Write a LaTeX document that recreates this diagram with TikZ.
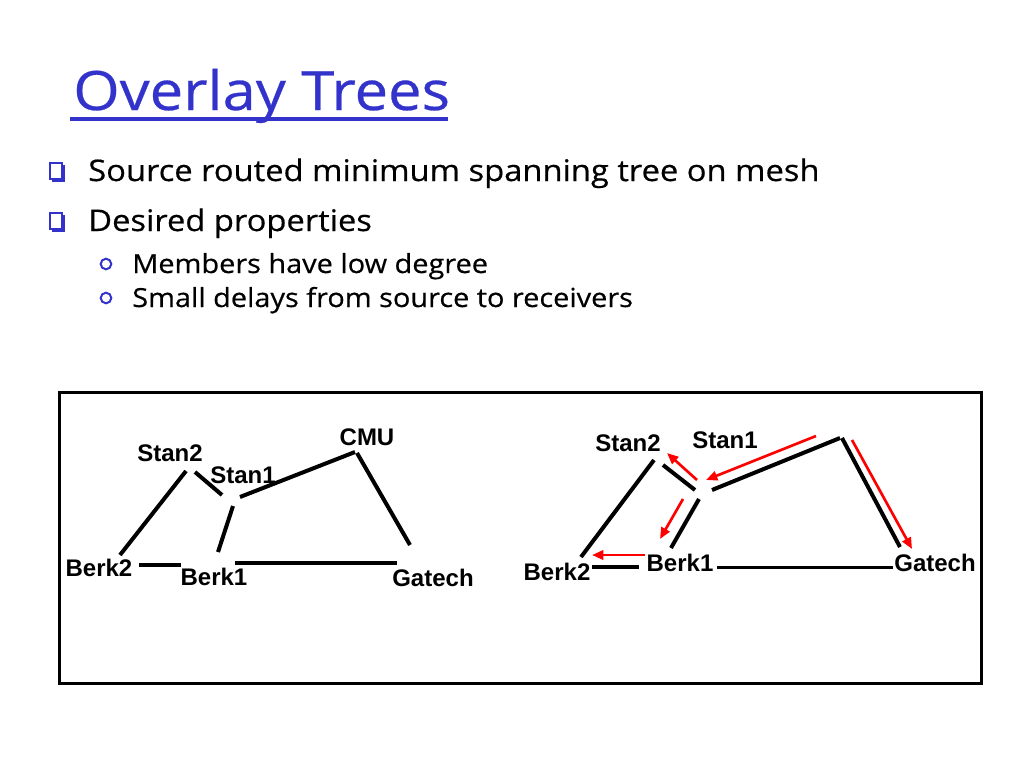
\documentclass[tikz,border=0pt]{standalone}
\usepackage{fontspec}
\setmainfont[FakeStretch=1.1,FakeBold=0.5]{Open Sans}
\newfontfamily\hostfont{Liberation Sans}
\usetikzlibrary{
	arrows.meta,
	positioning,
}
\definecolor{slideblue}{RGB}{51,51,204}
\tikzset{
	host/.style={
		font=\hostfont\bfseries\fontsize{18}{18}\selectfont,
		inner sep=0pt,
	},
	link/.style={line width=3pt},
	route/.style={
		red,
		line width=2pt,
		-{Triangle[length=8.5pt,width=7pt]},
	},
	item/.style={anchor=base west, inner sep=0pt, font=\fontsize{22.3}{26}\selectfont},
	subitem/.style={anchor=base west, inner sep=0pt, font=\fontsize{19.7}{24}\selectfont},
}

\begin{document}
\begin{tikzpicture}[x=0.75pt,y=-0.75pt]
\useasboundingbox (0,0) rectangle (1024,768);

% title and bullets
\node[anchor=base west, inner sep=0pt, text=slideblue,
	font=\fontsize{40.7}{44}\selectfont] (title) at (73,110) {Overlay Trees};
\draw[slideblue, line width=3pt] (70,119) -- (448,119);

\node[item] (b1) at (88,181) {Source routed minimum spanning tree on mesh};
\node[item] (b2) at (88,231) {Desired properties};
\node[subitem] (s1) at (132,273) {Members have low degree};
\node[subitem] (s2) at (132,307) {Small delays from source to receivers};

\foreach \y in {163,213}{
	\draw[slideblue, line width=1.2pt] (50,\y) rectangle (62,\y+16);
	\draw[slideblue, line width=1.6pt] (64,\y+2) -- (64,\y+18) -- (52,\y+18);
}
\foreach \y in {264,298}{
	\draw[slideblue, line width=1.5pt] (106,\y) circle (5.3);
}

\draw[line width=2.25pt] (59.5,392.5) rectangle (981,683);

% left: mesh
\node[host] (lStan2) at (170,453) {Stan2};
\node[host] (lStan1) at (243,475) {Stan1};
\node[host] (lCMU) at (367,437) {CMU};
\node[host] (lBerk2) at (99,568) {Berk2};
\node[host] (lBerk1) at (214,577) {Berk1};
\node[host] (lGatech) at (433,578) {Gatech};

\foreach \n/\x/\y in {
	l1/186/471, l2/120/555, l3/195/472, l4/222/495,
	l5/240/497, l6/355/452, l7/233/506, l8/218/552,
	l9/357/453, l10/410/545, l11/139/565, l12/181/565,
	l13/235/563, l14/397/563%
}{
	\coordinate (\n) at (\x,\y);
}

\foreach \u \v in {
	l1/l2,l3/l4,l5/l6,l7/l8,l9/l10,l11/l12,l13/l14%
}{
	\draw[link] (\u) -- (\v);
}

% right: tree from CMU
\node[host] (rStan2) at (628,443) {Stan2};
\node[host] (rStan1) at (725,440) {Stan1};
\node[host] (rBerk2) at (557,572) {Berk2};
\node[host] (rBerk1) at (680,563) {Berk1};
\node[host] (rGatech) at (935,563) {Gatech};

\foreach \n/\x/\y in {
	r1/654/460, r2/581/557, r3/663/465, r4/695/490,
	r5/712/490, r6/840/438, r7/842/438, r8/900/547,
	r9/699/499, r10/671/548, r11/592/567, r12/639/567,
	r13/717/567, r14/893/567,
	a1/816/436, a2/706/480, a3/697/480, a4/667/453,
	a5/683/499, a6/660/539, a7/645/555, a8/592/555,
	a9/852/440, a10/912/549%
}{
	\coordinate (\n) at (\x,\y);
}

\foreach \u \v in {
	r1/r2,r3/r4,r5/r6,r7/r8,r9/r10,r11/r12%
}{
	\draw[link] (\u) -- (\v);
}
\draw[link, line width=2.25pt] (r13) -- (r14);

\foreach \u \v in {
	a1/a2,a3/a4,a5/a6,a7/a8,a9/a10%
}{
	\draw[route] (\u) -- (\v);
}
\end{tikzpicture}
\end{document}
